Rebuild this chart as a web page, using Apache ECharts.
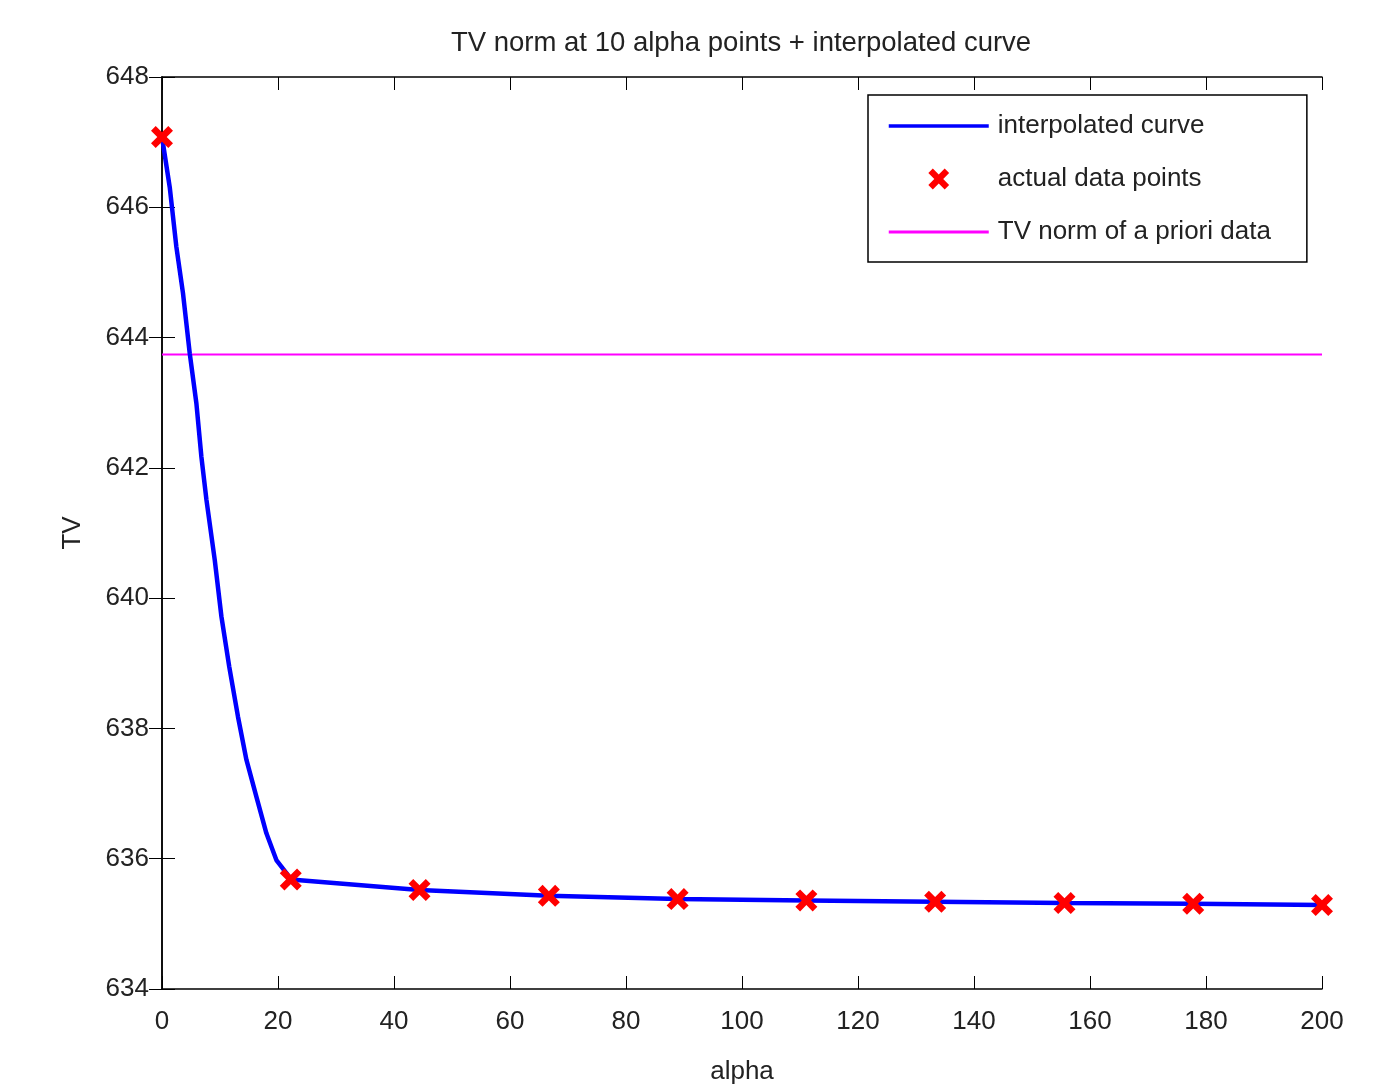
<!DOCTYPE html>
<html>
<head>
<meta charset="utf-8">
<script src="https://cdn.jsdelivr.net/npm/echarts@6/dist/echarts.min.js"></script>
<style>
  html, body { margin: 0; padding: 0; background: #fff; }
  #main { width: 1385px; height: 1086px; }
</style>
</head>
<body>
<div id="main"></div>
<script>
// 10 alpha points
const alphaPoints = [0, 22.2, 44.4, 66.7, 88.9, 111.1, 133.3, 155.6, 177.8, 200]
const tvPoints = [647.08, 635.68, 635.52, 635.43, 635.38, 635.36, 635.34, 635.32, 635.31, 635.29]

// interpolated curve
const curveAlpha = [0, 1.33, 2.48, 3.62, 4.78, 5.93, 6.79, 7.66, 9.09, 10.24, 11.59, 13.1, 14.55, 16.28, 18.0, 19.72, 21.45,
  22.2, 44.4, 66.7, 88.9, 111.1, 133.3, 155.6, 177.8, 200]
const curveTV = [647.08, 646.31, 645.39, 644.68, 643.76, 642.99, 642.17, 641.51, 640.59, 639.72, 638.95, 638.18, 637.52, 636.95, 636.39, 635.98, 635.78,
  635.68, 635.52, 635.43, 635.38, 635.36, 635.34, 635.32, 635.31, 635.29]

// TV norm of the a priori data
const priorTV = 643.74
const priorAlpha = [0, 200]

const xTicks = { min: 0, max: 200, interval: 20 }
const yTicks = { min: 634, max: 648, interval: 2 }

const font = 'Liberation Sans, Arial, sans-serif'
const crossPath = 'path://M0,3 L3,0 L7,4 L11,0 L14,3 L10,7 L14,11 L11,14 L7,10 L3,14 L0,11 L4,7 Z'

const myChart = echarts.init(document.querySelector('#main'))

const tick = { show: true, inside: true, length: 13, lineStyle: { color: '#000', width: 1 } }
const axLine = { show: true, lineStyle: { color: '#000', width: 1.5 } }

myChart.setOption({
  animation: false,
  backgroundColor: '#fff',
  title: {
    text: 'TV norm at 10 alpha points + interpolated curve',
    left: 446,
    top: 24,
    textStyle: { fontFamily: font, fontSize: 27.5, fontWeight: 'normal', color: '#222' }
  },
  grid: { left: 162, right: 63, top: 77, bottom: 97, outerBoundsMode: 'none' },
  legend: {
    orient: 'vertical',
    left: 868,
    top: 95,
    padding: [18, 36, 17, 19],
    itemWidth: 100,
    itemHeight: 26,
    itemGap: 27,
    borderColor: '#000',
    borderWidth: 1.5,
    selectedMode: false,
    backgroundColor: '#fff',
    textStyle: { fontFamily: font, fontSize: 26, color: '#222', padding: [0, 0, 0, 4] },
    data: [
      { name: 'interpolated curve', itemStyle: { opacity: 0 }, lineStyle: { width: 3.5 } },
      { name: 'actual data points' },
      { name: 'TV norm of a priori data', itemStyle: { opacity: 0 }, lineStyle: { width: 3 } }
    ]
  },
  xAxis: [
    {
      type: 'value', ...xTicks,
      name: 'alpha', nameLocation: 'middle', nameGap: 70,
      nameTextStyle: { fontFamily: font, fontSize: 26, color: '#222' },
      axisLine: axLine, axisTick: tick, splitLine: { show: false },
      axisLabel: { fontFamily: font, fontSize: 26, color: '#222', margin: 20 }
    },
    {
      type: 'value', position: 'top', ...xTicks,
      axisLine: axLine, axisTick: tick, splitLine: { show: false },
      axisLabel: { show: false }
    }
  ],
  yAxis: [
    {
      type: 'value', ...yTicks,
      name: 'TV', nameLocation: 'middle', nameGap: 76,
      nameTextStyle: { fontFamily: font, fontSize: 26, color: '#222' },
      axisLine: axLine, axisTick: tick, splitLine: { show: false },
      axisLabel: { fontFamily: font, fontSize: 26, color: '#222', margin: 13 }
    },
    {
      type: 'value', position: 'right', ...yTicks,
      axisLine: axLine, axisTick: tick, splitLine: { show: false },
      axisLabel: { show: false }
    }
  ],
  series: [
    {
      name: 'TV norm of a priori data',
      type: 'line',
      symbol: 'none',
      color: '#ff00ff',
      lineStyle: { color: '#ff00ff', width: 2 },
      data: priorAlpha.map(a => [a, priorTV]),
      z: 1
    },
    {
      name: 'interpolated curve',
      type: 'line',
      symbol: 'none',
      color: '#0000ff',
      lineStyle: { color: '#0000ff', width: 4.5 },
      data: curveAlpha.map((a, i) => [a, curveTV[i]]),
      z: 2
    },
    {
      name: 'actual data points',
      type: 'line',
      symbol: crossPath,
      symbolSize: 22,
      showSymbol: true,
      color: '#ff0000',
      itemStyle: { color: '#ff0000' },
      lineStyle: { width: 0, opacity: 0 },
      data: alphaPoints.map((a, i) => [a, tvPoints[i]]),
      z: 3
    }
  ]
})
</script>
</body>
</html>
